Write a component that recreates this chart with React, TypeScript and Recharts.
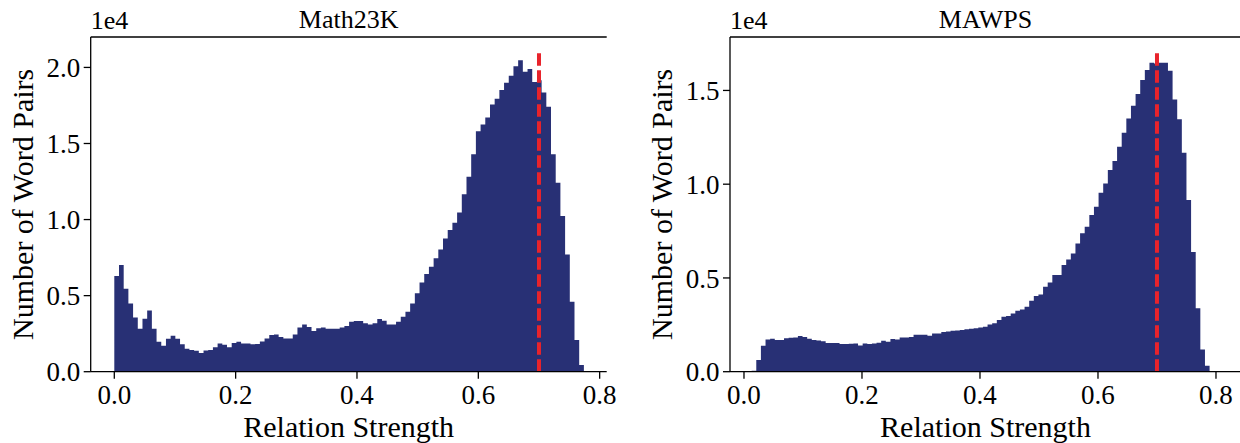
import React from 'react';
import { ComposedChart, Area, XAxis, YAxis, ReferenceLine, Label } from 'recharts';

// ---- Data ----
const MATH23K_BIN_START = 0.0;
const MATH23K_BIN_WIDTH = 0.00774;
const MATH23K_COUNTS = [
  6290, 7010, 5450, 4490, 3570, 2830, 3480, 4030, 2830, 1970,
  1710, 2170, 2370, 2170, 1800, 1510, 1420, 1380, 1230, 1400,
  1420, 1600, 1860, 1770, 1600, 1880, 1970, 1860, 1860, 1800,
  1820, 1990, 2190, 2410, 2450, 2280, 2190, 2190, 2450, 2910,
  3110, 2930, 2670, 2850, 2910, 2830, 2830, 2830, 2910, 3000,
  3290, 3330, 3330, 3180, 3110, 3180, 3460, 3350, 3110, 3110,
  3290, 3610, 3940, 4490, 5150, 5870, 6420, 6900, 7450, 8040,
  8760, 9310, 9790, 10470, 11670, 12810, 14300, 15810, 16250, 16710,
  17560, 17940, 18510, 18990, 19450, 20080, 20480, 19710, 19890, 19050,
  19160, 18350, 17410, 14300, 12420, 10230, 7710, 4600, 2080, 440,
];

const MAWPS_BIN_START = 0.013;
const MAWPS_BIN_WIDTH = 0.00784;
const MAWPS_COUNTS = [
  50, 620, 1390, 1720, 1760, 1690, 1690, 1780, 1810, 1830,
  1900, 1850, 1760, 1690, 1670, 1620, 1530, 1530, 1530, 1480,
  1480, 1490, 1510, 1400, 1510, 1480, 1510, 1550, 1650, 1600,
  1740, 1720, 1830, 1830, 1850, 1970, 1970, 1970, 1920, 2040,
  2040, 2120, 2150, 2180, 2200, 2220, 2260, 2290, 2320, 2360,
  2400, 2520, 2580, 2760, 2930, 2970, 3110, 3250, 3320, 3470,
  3790, 4040, 4120, 4530, 4760, 5160, 5160, 5690, 5990, 6310,
  6840, 7380, 7730, 8360, 8800, 9550, 10040, 10760, 11240, 12000,
  12750, 13510, 14190, 14810, 15560, 16090, 16480, 16440, 16480, 16480,
  16050, 14520, 13460, 11680, 9160, 6380, 3380, 1190, 320, 40,
];

const X_TICKS = [0, 0.2, 0.4, 0.6, 0.8];
const MATH23K_Y_TICKS = [0, 5000, 10000, 15000, 20000];
const MAWPS_Y_TICKS = [0, 5000, 10000, 15000];
const MATH23K_X_DOMAIN = [-0.0389, 0.8116];
const MAWPS_X_DOMAIN = [-0.0237, 0.8424];
const MATH23K_Y_DOMAIN = [0, 22000];
const MAWPS_Y_DOMAIN = [0, 17850];
const THRESHOLD = 0.7;
const THRESHOLD_LINE_FRACTION = 0.955;
const TITLES = ['Math23K', 'MAWPS'];
const X_LABEL = 'Relation Strength';
const Y_LABEL = 'Number of Word Pairs';
const OFFSET_TEXT = '1e4';

// ---- Styles ----
const FONT = '"Liberation Serif", "Times New Roman", serif';
const BAR_COLOR = '#283075';
const RED = '#E8232B';
const AXIS_STROKE = { stroke: '#000', strokeWidth: 1.3 };

function toSteps(start: number, width: number, counts: number[]) {
  const pts = counts.map((c, i) => ({ x: start + i * width, count: c }));
  pts.push({ x: start + counts.length * width, count: counts[counts.length - 1] });
  return pts;
}

type PanelProps = {
  left: number;
  width: number;
  marginRight: number;
  yAxisWidth: number;
  yLabelBaseline: number;
  title: string;
  data: { x: number; count: number }[];
  xDomain: number[];
  yDomain: number[];
  yTicks: number[];
};

function Panel(p: PanelProps) {
  const tickStyle = { fontFamily: FONT, fontSize: 27, fill: '#000' };
  const lineTop = p.yDomain[1] * THRESHOLD_LINE_FRACTION;
  return (
    <div style={{ position: 'absolute', left: p.left, top: 0, width: p.width, height: 443 }}>
      <ComposedChart
        width={p.width}
        height={443}
        data={p.data}
        margin={{ top: 0, right: p.marginRight, bottom: 0, left: 0 }}
      >
        <XAxis
          dataKey="x"
          type="number"
          domain={p.xDomain}
          ticks={X_TICKS}
          interval={0}
          allowDataOverflow
          tickFormatter={(v: number) => v.toFixed(1)}
          height={71.3}
          tickSize={7}
          tickMargin={6.5}
          tick={tickStyle}
          axisLine={AXIS_STROKE}
          tickLine={AXIS_STROKE}
        >
          <Label
            content={(props: any) => {
              const vb = props.viewBox || { x: 0, y: 0, width: 0, height: 0 };
              return (
                <text
                  x={vb.x + vb.width / 2}
                  y={vb.y + 65}
                  textAnchor="middle"
                  fontFamily={FONT}
                  fontSize={30}
                  fill="#000"
                >
                  {X_LABEL}
                </text>
              );
            }}
          />
        </XAxis>
        <XAxis
          xAxisId="top"
          orientation="top"
          type="number"
          domain={p.xDomain}
          allowDataOverflow
          height={37}
          tick={false}
          tickLine={false}
          axisLine={AXIS_STROKE}
        >
          <Label
            content={(props: any) => {
              const vb = props.viewBox || { x: 0, y: 0, width: 0, height: 0 };
              return (
                <g>
                  <text
                    x={vb.x + vb.width / 2}
                    y={28}
                    textAnchor="middle"
                    fontFamily={FONT}
                    fontSize={26}
                    fill="#000"
                  >
                    {p.title}
                  </text>
                  <text x={vb.x} y={29} textAnchor="start" fontFamily={FONT} fontSize={26} fill="#000">
                    {OFFSET_TEXT}
                  </text>
                </g>
              );
            }}
          />
        </XAxis>
        <YAxis
          type="number"
          domain={p.yDomain}
          ticks={p.yTicks}
          interval={0}
          allowDataOverflow
          width={p.yAxisWidth}
          tickFormatter={(v: number) => (v / 10000).toFixed(1)}
          tickSize={7}
          tickMargin={3.5}
          tick={tickStyle}
          axisLine={AXIS_STROKE}
          tickLine={AXIS_STROKE}
        >
          <Label
            content={(props: any) => {
              const vb = props.viewBox || { x: 0, y: 0, width: 0, height: 0 };
              const x = vb.x + p.yLabelBaseline;
              const y = vb.y + vb.height / 2;
              return (
                <text
                  x={x}
                  y={y}
                  transform={`rotate(-90, ${x}, ${y})`}
                  textAnchor="middle"
                  fontFamily={FONT}
                  fontSize={30}
                  fill="#000"
                >
                  {Y_LABEL}
                </text>
              );
            }}
          />
        </YAxis>
        <YAxis
          yAxisId="right"
          orientation="right"
          type="number"
          domain={p.yDomain}
          width={0}
          tick={false}
          tickLine={false}
          axisLine={AXIS_STROKE}
        />
        <Area
          type="stepAfter"
          dataKey="count"
          stroke="none"
          fill={BAR_COLOR}
          fillOpacity={1}
          dot={false}
          activeDot={false}
          isAnimationActive={false}
        />
        <ReferenceLine
          segment={[
            { x: THRESHOLD, y: 0 },
            { x: THRESHOLD, y: lineTop },
          ]}
          stroke={RED}
          strokeWidth={4}
          strokeDasharray="12.5 4.5"
          ifOverflow="visible"
        />
      </ComposedChart>
    </div>
  );
}

export default function App() {
  const math = toSteps(MATH23K_BIN_START, MATH23K_BIN_WIDTH, MATH23K_COUNTS);
  const mawps = toSteps(MAWPS_BIN_START, MAWPS_BIN_WIDTH, MAWPS_COUNTS);
  return (
    <div
      style={{
        position: 'absolute',
        left: 0,
        top: 0,
        width: 1240,
        height: 443,
        overflow: 'hidden',
        background: '#fff',
      }}
    >
      <Panel
        left={0}
        width={620}
        marginRight={13.3}
        yAxisWidth={90.7}
        yLabelBaseline={33.3}
        title={TITLES[0]}
        data={math}
        xDomain={MATH23K_X_DOMAIN}
        yDomain={MATH23K_Y_DOMAIN}
        yTicks={MATH23K_Y_TICKS}
      />
      <Panel
        left={620}
        width={621}
        marginRight={0}
        yAxisWidth={110}
        yLabelBaseline={51.7}
        title={TITLES[1]}
        data={mawps}
        xDomain={MAWPS_X_DOMAIN}
        yDomain={MAWPS_Y_DOMAIN}
        yTicks={MAWPS_Y_TICKS}
      />
    </div>
  );
}
